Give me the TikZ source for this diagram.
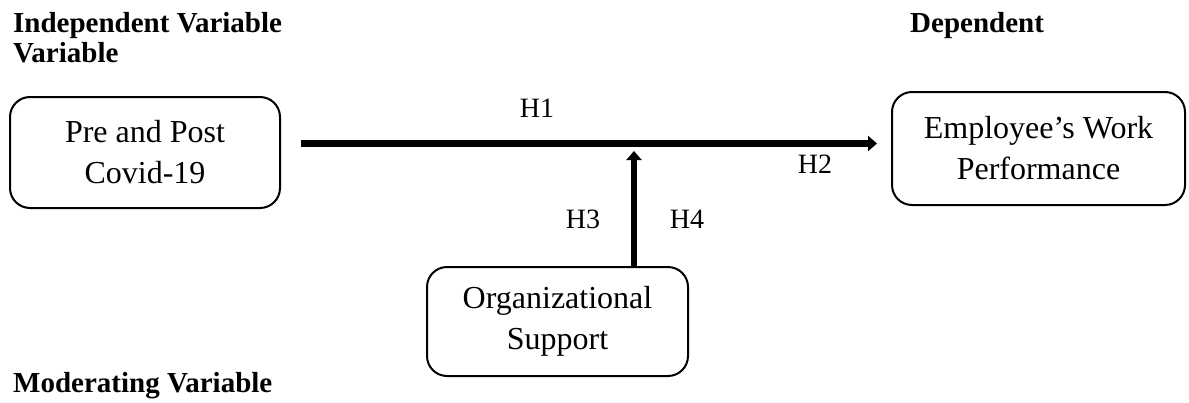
\documentclass[tikz,border=0pt]{standalone}
\usepackage{fontspec}
\setmainfont{Liberation Serif}
\usetikzlibrary{arrows.meta,positioning}

\begin{document}
\begin{tikzpicture}[
  x=1pt, y=-1pt,
  box/.style={draw, rounded corners=20pt, line width=2pt, align=center, inner sep=0pt, font=\fontsize{32}{41}\selectfont},
  head/.style={inner sep=0pt, align=left, font=\fontsize{29}{30}\selectfont\bfseries},
  hyp/.style={inner sep=0pt, font=\fontsize{28}{30}\selectfont},
  arr/.style={-{Triangle[length=9pt,width=15pt]}, line width=6.5pt}
]
\useasboundingbox (0,0) rectangle (1189,402);
% headings
\node[head, anchor=base west] (indep) at (13,62) {Independent Variable\\Variable};
\node[head, anchor=base west] (dep) at (910,32) {Dependent};
\node[head, anchor=base west] (moder) at (13,392) {Moderating Variable};
% variables
\node[box, minimum width=270pt, minimum height=111pt] (pre) at (145,152.5) {Pre and Post\\Covid-19};
\node[box, minimum width=293pt, minimum height=113pt] (perf) at (1038.5,148.5) {Employee's Work\\Performance};
\node[box, minimum width=261pt, minimum height=109pt] (org) at (557.5,321.5) {Organizational\\Support};
% paths
\coordinate (h) at ([xshift=20pt,yshift=9pt]pre.east);
\coordinate (o) at ([xshift=76.5pt]org.north);
\draw[arr, shorten >=14pt] (h) -- (h -| perf.west);
\draw[arr, shorten >=7.5pt] (o) -- (o |- h);
% hypotheses
\node[hyp] (h1) at (537,108) {H1};
\node[hyp] (h2) at (815,164) {H2};
\node[hyp] (h3) at (583,219) {H3};
\node[hyp] (h4) at (687,219) {H4};
\end{tikzpicture}
\end{document}
